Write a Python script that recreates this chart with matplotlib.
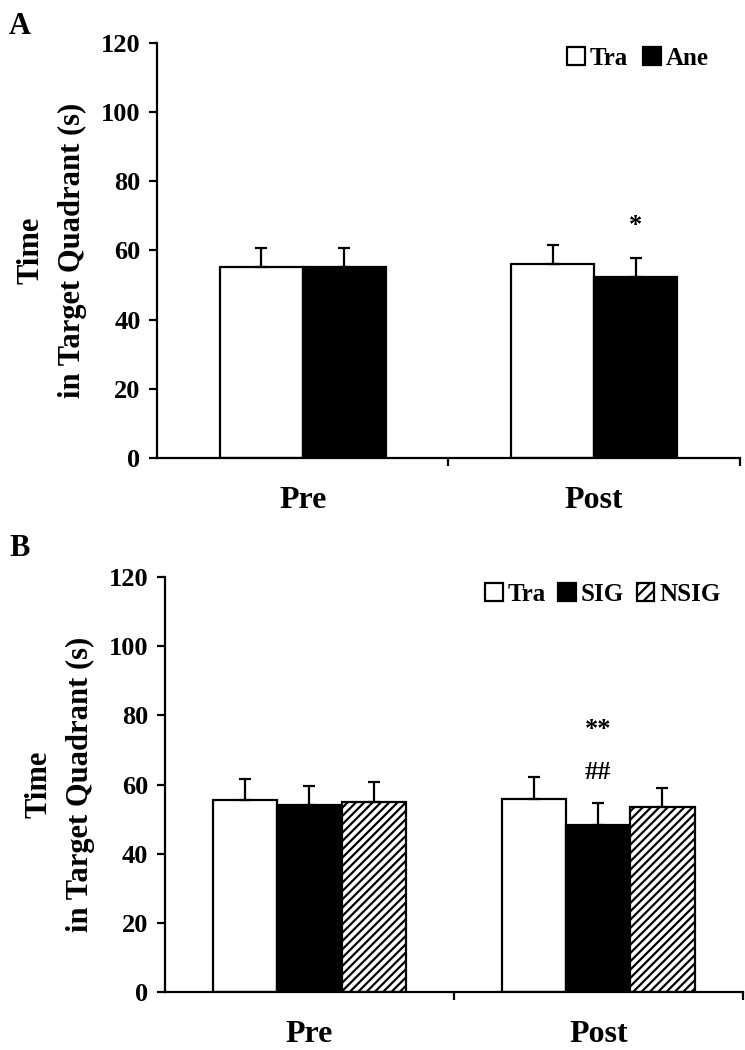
import numpy as np
import matplotlib
matplotlib.use('Agg')
import matplotlib.pyplot as plt
from matplotlib.patches import Patch

plt.rcParams['font.family'] = ['Liberation Serif', 'DejaVu Serif']
plt.rcParams['font.weight'] = 'bold'
plt.rcParams['axes.labelweight'] = 'bold'
plt.rcParams['hatch.linewidth'] = 1.6

# data
groups = ['Pre', 'Post']

a_tra = [55.2, 56.0]
a_tra_err = [5.5, 5.6]
a_ane = [55.2, 52.3]
a_ane_err = [5.5, 5.6]

b_tra = [55.5, 55.9]
b_tra_err = [6.1, 6.2]
b_sig = [54.0, 48.4]
b_sig_err = [5.6, 6.2]
b_nsig = [54.8, 53.5]
b_nsig_err = [5.8, 5.6]

yticks = [0, 20, 40, 60, 80, 100, 120]


def style_axes(ax):
    ax.set_xlim(0, 2)
    ax.set_ylim(0, 120)
    ax.spines['top'].set_visible(False)
    ax.spines['right'].set_visible(False)
    ax.spines['left'].set_linewidth(1.6)
    ax.spines['bottom'].set_linewidth(1.6)
    ax.set_yticks(yticks)
    ax.tick_params(axis='y', direction='out', length=6, width=1.6, labelsize=19, pad=6)
    # group separator ticks, labels sit in between
    ax.set_xticks([1, 2])
    ax.set_xticklabels(['', ''])
    ax.tick_params(axis='x', which='major', direction='out', length=6, width=1.6)
    ax.set_xticks([0.5, 1.5], minor=True)
    ax.set_xticklabels(groups, minor=True, fontsize=23)
    ax.tick_params(axis='x', which='minor', length=0, pad=20)
    ax.set_ylabel('Time\nin Target Quadrant (s)', fontsize=22, linespacing=1.55, labelpad=10)


def draw_bars(ax, xs, vals, errs, face, hatch=None, width=0.28):
    ax.bar(xs, vals, width, color=face, edgecolor='black', linewidth=1.6, hatch=hatch, zorder=2)
    ax.errorbar(xs, vals, yerr=[np.zeros(len(errs)), errs], fmt='none', ecolor='black',
                elinewidth=1.6, capsize=4, capthick=1.6, zorder=3)


fig = plt.figure(figsize=(7.45, 10.5), dpi=100)

# Panel A
ax1 = fig.add_axes([0.211, 0.564, 0.782, 0.395])
centers = np.array([0.5, 1.5])
w = 0.285
draw_bars(ax1, centers - w / 2, a_tra, a_tra_err, 'white', width=w)
draw_bars(ax1, centers + w / 2, a_ane, a_ane_err, 'black', width=w)
style_axes(ax1)
ax1.text(centers[1] + w / 2, 64, '*', ha='center', va='bottom', fontsize=19)
ax1.legend(handles=[Patch(facecolor='white', edgecolor='black', linewidth=1.6, label='Tra'),
                    Patch(facecolor='black', edgecolor='black', linewidth=1.6, label='Ane')],
           loc='upper right', bbox_to_anchor=(0.985, 1.045), ncol=2, frameon=False, fontsize=18,
           handlelength=0.7, handleheight=0.7, handletextpad=0.2, columnspacing=0.6)
fig.text(0.012, 0.975, 'A', fontsize=22, ha='left', va='center')

# Panel B
ax2 = fig.add_axes([0.2215, 0.0552, 0.7755, 0.3953])
w = 0.222
draw_bars(ax2, centers - w, b_tra, b_tra_err, 'white', width=w)
draw_bars(ax2, centers, b_sig, b_sig_err, 'black', width=w)
draw_bars(ax2, centers + w, b_nsig, b_nsig_err, 'white', hatch='////', width=w)
style_axes(ax2)
ax2.text(centers[1], 72.5, '**', ha='center', va='bottom', fontsize=19)
ax2.text(centers[1], 63.6, '##', ha='center', va='center', fontsize=19)
ax2.legend(handles=[Patch(facecolor='white', edgecolor='black', linewidth=1.6, label='Tra'),
                    Patch(facecolor='black', edgecolor='black', linewidth=1.6, label='SIG'),
                    Patch(facecolor='white', edgecolor='black', linewidth=1.6, hatch='///', label='NSIG')],
           loc='upper right', bbox_to_anchor=(1.0, 1.04), ncol=3, frameon=False, fontsize=18,
           handlelength=0.7, handleheight=0.7, handletextpad=0.2, columnspacing=0.5)
fig.text(0.012, 0.478, 'B', fontsize=22, ha='left', va='center')

fig.savefig('out.png', dpi=100)
